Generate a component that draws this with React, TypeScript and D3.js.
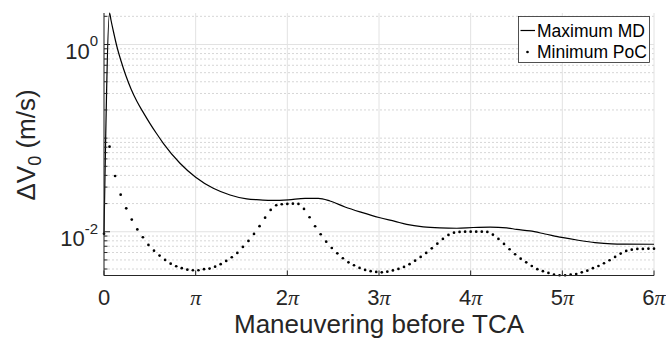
import React, { useEffect, useRef } from 'react';
import * as d3 from 'd3';

// x ticks are multiples of pi
const xTickMultiples = [0, 1, 2, 3, 4, 5, 6];
const xTickLabels = ['0', 'π', '2π', '3π', '4π', '5π', '6π'];
const yTickExponents = [-2, 0];
const legendLabels = ['Maximum MD', 'Minimum PoC'];

// Maximum MD (solid line), x in units of pi
const maxMdX = [
  0, 0.061, 0.076, 0.104, 0.142, 0.186, 0.24, 0.295, 0.36, 0.431, 0.502, 0.573, 0.647, 0.829,
  1.0, 1.192, 1.375, 1.557, 1.702, 1.829, 2.011, 2.193, 2.338, 2.465, 2.629, 2.811, 3.0,
  3.175, 3.302, 3.483, 3.665, 3.848, 4.029, 4.211, 4.393, 4.502, 4.647, 4.811, 4.993, 5.174,
  5.356, 5.538, 5.683, 6.0,
];
const maxMdDv = [
  0.0095, 2.17, 1.827, 1.36, 0.94, 0.666, 0.461, 0.335, 0.246, 0.186, 0.143, 0.112, 0.0881,
  0.0539, 0.0382, 0.0291, 0.0247, 0.0224, 0.0219, 0.0216, 0.0219, 0.0227, 0.0227, 0.0213,
  0.0184, 0.0161, 0.0142, 0.0129, 0.012, 0.0113, 0.011, 0.0109, 0.0111, 0.0112, 0.011, 0.0106,
  0.0102, 0.00947, 0.00869, 0.00811, 0.00765, 0.00741, 0.00737, 0.00735,
];

// Minimum PoC (dots), sampled evenly over [0, 6pi]
const minPocDv = [
  0.0095, 0.081, 0.0394, 0.0249, 0.0178, 0.0135, 0.0106, 0.00874, 0.00723, 0.00628,
  0.00556, 0.005, 0.00456, 0.00428, 0.00408, 0.00394, 0.00388, 0.00388, 0.00398, 0.00404,
  0.00424, 0.0045, 0.00488, 0.00534, 0.00594, 0.00688, 0.00798, 0.00947, 0.01148, 0.01414,
  0.01709, 0.01919, 0.01966, 0.01981, 0.01995, 0.01981, 0.01752, 0.01428, 0.01145, 0.0094,
  0.00784, 0.00671, 0.00589, 0.00521, 0.00472, 0.00439, 0.00411, 0.00391, 0.00379, 0.00372,
  0.00369, 0.00375, 0.00386, 0.00401, 0.00421, 0.0045, 0.00491, 0.00538, 0.00594, 0.00666,
  0.00746, 0.00838, 0.00924, 0.00978, 0.00995, 0.01003, 0.01003, 0.01003, 0.01003, 0.00995,
  0.00931, 0.00838, 0.00741, 0.0065, 0.00575, 0.00516, 0.00472, 0.00431, 0.00398, 0.00379,
  0.00363, 0.00348, 0.00343, 0.00343, 0.00348, 0.00354, 0.00369, 0.00384, 0.00408, 0.00431,
  0.00461, 0.00496, 0.00538, 0.00584, 0.00624, 0.00644, 0.00655, 0.00655, 0.0066, 0.0066,
];

export default function App() {
  const ref = useRef<SVGSVGElement>(null);

  useEffect(() => {
    const svg = d3.select(ref.current);
    svg.selectAll('*').remove();

    const left = 104, right = 654, top = 13, bottom = 275.5;
    const ink = '#262626';
    const sans = '"Liberation Sans", Arial, Helvetica, sans-serif';
    const serif = '"Liberation Serif", "Times New Roman", serif';

    const x = d3.scaleLinear().domain([0, 6 * Math.PI]).range([left, right]);
    const y = d3.scaleLog().domain([0.00341, 2.17]).range([bottom, top]);

    const isMajor = (v: number) => yTickExponents.some(e => Math.abs(Math.log10(v) - e) < 1e-6);
    const minorY = y.ticks().filter(v => !isMajor(v));
    const majorY = yTickExponents.map(e => Math.pow(10, e));

    // minor grid (dotted)
    svg.append('g').selectAll('line').data(minorY).join('line')
      .attr('x1', left).attr('x2', right)
      .attr('y1', d => y(d)).attr('y2', d => y(d))
      .attr('stroke', '#d6d6d6').attr('stroke-width', 1).attr('stroke-dasharray', '2,2');

    // major grid
    svg.append('g').selectAll('line').data(majorY).join('line')
      .attr('x1', left).attr('x2', right)
      .attr('y1', d => y(d)).attr('y2', d => y(d))
      .attr('stroke', '#e2e2e2').attr('stroke-width', 1);
    svg.append('g').selectAll('line').data(xTickMultiples).join('line')
      .attr('x1', d => x(d * Math.PI)).attr('x2', d => x(d * Math.PI))
      .attr('y1', top).attr('y2', bottom)
      .attr('stroke', '#e2e2e2').attr('stroke-width', 1);

    // data
    const line = d3.line<number>()
      .x((d, i) => x(maxMdX[i] * Math.PI))
      .y(d => y(d))
      .curve(d3.curveMonotoneX);
    svg.append('path')
      .datum(maxMdDv)
      .attr('fill', 'none')
      .attr('stroke', '#000')
      .attr('stroke-width', 1.2)
      .attr('d', line);

    const step = (6 * Math.PI) / (minPocDv.length - 1);
    svg.append('g').selectAll('circle').data(minPocDv).join('circle')
      .attr('cx', (d, i) => x(i * step))
      .attr('cy', d => y(d))
      .attr('r', 1.35)
      .attr('fill', '#000');

    // axes
    svg.append('line')
      .attr('x1', left).attr('x2', left).attr('y1', top).attr('y2', bottom)
      .attr('stroke', ink).attr('stroke-width', 1);
    svg.append('line')
      .attr('x1', left).attr('x2', right).attr('y1', bottom).attr('y2', bottom)
      .attr('stroke', ink).attr('stroke-width', 1);

    svg.append('g').selectAll('line').data(xTickMultiples).join('line')
      .attr('x1', d => x(d * Math.PI)).attr('x2', d => x(d * Math.PI))
      .attr('y1', bottom).attr('y2', bottom - 5)
      .attr('stroke', ink);
    svg.append('g').selectAll('line').data(minorY).join('line')
      .attr('x1', left).attr('x2', left + 3.5)
      .attr('y1', d => y(d)).attr('y2', d => y(d))
      .attr('stroke', ink);
    svg.append('g').selectAll('line').data(majorY).join('line')
      .attr('x1', left).attr('x2', left + 6)
      .attr('y1', d => y(d)).attr('y2', d => y(d))
      .attr('stroke', ink);

    // x tick labels
    const xt = svg.append('g').selectAll('text').data(xTickMultiples).join('text')
      .attr('x', d => x(d * Math.PI))
      .attr('y', 305)
      .attr('text-anchor', 'middle')
      .attr('font-size', 22)
      .attr('fill', ink);
    xt.each(function (d, i) {
      const label = xTickLabels[i];
      const t = d3.select(this);
      const num = label.replace('π', '');
      if (num) t.append('tspan').attr('font-family', sans).text(num);
      if (label.includes('π')) {
        t.append('tspan').attr('font-family', serif).attr('font-style', 'italic').text('π');
      }
    });

    // y tick labels
    yTickExponents.forEach(e => {
      const t = svg.append('text')
        .attr('x', 98)
        .attr('y', y(Math.pow(10, e)) + 14.5)
        .attr('text-anchor', 'end')
        .attr('font-family', sans)
        .attr('font-size', 22)
        .attr('fill', ink);
      t.append('tspan').text('10');
      t.append('tspan').attr('font-size', 15).attr('dy', -12.6).text(String(e));
    });

    // axis labels
    const yl = svg.append('text')
      .attr('transform', 'translate(34.5,145) rotate(-90)')
      .attr('text-anchor', 'middle')
      .attr('font-family', sans)
      .attr('font-size', 26)
      .attr('fill', ink);
    yl.append('tspan').text('ΔV');
    yl.append('tspan').attr('font-size', 18).attr('dy', 6).text('0');
    yl.append('tspan').attr('dy', -6).text(' (m/s)');

    svg.append('text')
      .attr('x', (left + right) / 2)
      .attr('y', 333)
      .attr('text-anchor', 'middle')
      .attr('font-family', sans)
      .attr('font-size', 26)
      .attr('fill', ink)
      .text('Maneuvering before TCA');

    // legend
    const lg = svg.append('g');
    lg.append('rect')
      .attr('x', 518.5).attr('y', 16.5).attr('width', 131).attr('height', 46)
      .attr('fill', '#fff').attr('stroke', ink).attr('stroke-width', 0.8);
    lg.append('line')
      .attr('x1', 520.5).attr('x2', 535).attr('y1', 30.5).attr('y2', 30.5)
      .attr('stroke', '#000').attr('stroke-width', 1.2);
    lg.append('circle').attr('cx', 527.5).attr('cy', 52).attr('r', 1.35).attr('fill', '#000');
    lg.selectAll('text').data(legendLabels).join('text')
      .attr('x', 537)
      .attr('y', (d, i) => 36.5 + i * 21.5)
      .attr('font-family', sans)
      .attr('font-size', 17.5)
      .attr('fill', '#000')
      .text(d => d);
  }, []);

  return (
    <svg
      ref={ref}
      width={666}
      height={345}
      style={{ position: 'absolute', left: 0, top: 0, background: '#fff' }}
    />
  );
}
